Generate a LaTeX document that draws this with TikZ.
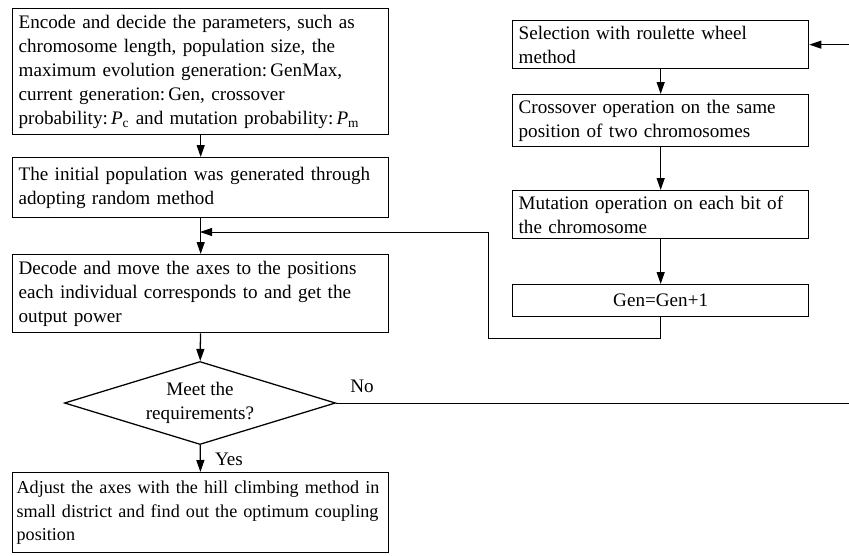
\documentclass[tikz,border=0pt]{standalone}
\usepackage{fontspec}
\setmainfont{Liberation Serif}
\usetikzlibrary{arrows.meta,shapes.geometric}
\tikzset{
  procbox/.style={draw, line width=0.9pt, anchor=north west, inner xsep=0.15cm, inner ysep=0pt, align=left},
  askbox/.style={draw, diamond, aspect=3.3, line width=0.9pt, inner sep=0pt, align=center, minimum width=6.775cm, minimum height=2.075cm},
  flow/.style={-{Triangle[length=3mm,width=2mm]}, line width=0.9pt},
  loopline/.style={line width=0.6pt},
}
\begin{document}
\begin{tikzpicture}[x=0.025cm, y=-0.025cm, font=\fontsize{13.6}{17}\selectfont]
\useasboundingbox (0,0) rectangle (849,555);
% left column
\node[procbox, text width=9.1cm, minimum height=3.15cm] at (12,8) (enc) {Encode and decide the parameters, such as\\ chromosome length, population size, the\\ maximum evolution generation:\,GenMax,\\ current generation:\,Gen, crossover\\ probability:\,\textit{P}\textsubscript{c} and mutation probability:\,\textit{P}\textsubscript{m}};
\node[procbox, text width=9.1cm, minimum height=1.5cm] at (12,157) (init) {The initial population was generated through\\ adopting random method};
\node[procbox, text width=9.1cm, minimum height=1.95cm] at (12,254) (dec) {Decode and move the axes to the positions\\ each individual corresponds to and get the\\ output power};
\node[askbox] at (200,403) (ask) {Meet the\\ requirements?};
\node[procbox, inner xsep=0.1cm, text width=9.2cm, minimum height=2cm, font=\fontsize{12.9}{17}\selectfont] at (12,472) (adj) {Adjust the axes with the hill climbing method in\\ small district and find out the optimum coupling\\ position};
% right column
\node[procbox, text width=7.1cm, minimum height=1.2cm] at (512,20) (sel) {Selection with roulette wheel\\ method};
\node[procbox, text width=7.1cm, minimum height=1.3cm] at (512,94) (cross) {Crossover operation on the same\\ position of two chromosomes};
\node[procbox, text width=7.1cm, minimum height=1.2cm] at (512,190) (mut) {Mutation operation on each bit of\\ the chromosome};
\node[procbox, text width=7.1cm, minimum height=0.8cm, align=center] at (512,284) (gen) {Gen=Gen+1};
% labels
\node at (362,386) (no) {No};
\node at (229,459) (yes) {Yes};
% turning points
\coordinate (merge) at (200,232);
\coordinate (loopturn) at (488,338);
\coordinate (noturn) at (862,403);
\draw[flow] (enc) -- (init);
\draw[flow] (init) -- (dec);
\draw[flow] (dec) -- (ask);
\draw[flow] (ask) -- (adj);
\draw[flow] (sel) -- (cross);
\draw[flow] (cross) -- (mut);
\draw[flow] (mut) -- (gen);
\draw[flow, loopline] (gen.south) |- (loopturn) |- (merge);
\draw[flow, loopline] (ask.east) -- (noturn) |- (sel.east);
\end{tikzpicture}
\end{document}
